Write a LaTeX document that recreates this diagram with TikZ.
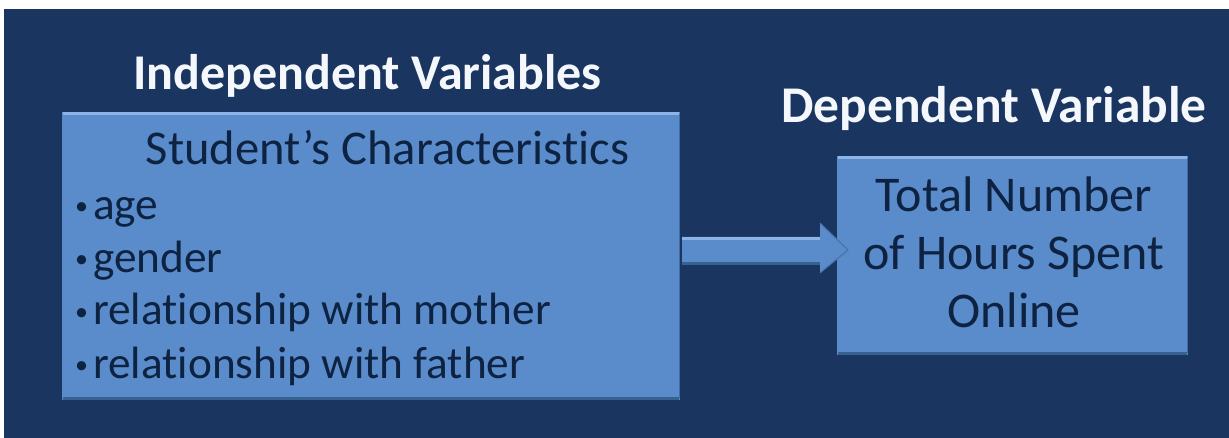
\documentclass[tikz,border=0pt]{standalone}
\usepackage{fontspec}
\setmainfont{Carlito}[RawFeature={-liga;-calt;-dlig;-clig}]
\usetikzlibrary{calc}
\definecolor{bgblue}{HTML}{1A3660}
\definecolor{boxblue}{HTML}{5A8BCB}
\definecolor{boxlight}{HTML}{8DB4E6}
\definecolor{boxdark}{HTML}{36628F}
\definecolor{inkblue}{HTML}{0E2342}
\definecolor{titlewhite}{HTML}{F4F7FB}
\newcommand{\smallbul}{\raisebox{5pt}{\fontsize{26}{26}\selectfont •}\hspace{5pt}}
\tikzset{
  panel/.style={draw=none, fill=boxblue, inner sep=0pt},
  titletext/.style={text=titlewhite, font=\bfseries\fontsize{50}{60}\selectfont, inner sep=0pt},
  headtext/.style={text=inkblue, font=\fontsize{48.5}{56}\selectfont, inner sep=0pt},
  itemtext/.style={text=inkblue, font=\fontsize{45.3}{53}\selectfont, inner sep=0pt, anchor=base west},
  bevellight/.style={boxlight, line width=3pt},
  beveldark/.style={boxdark, line width=3pt},
}
\begin{document}
\begin{tikzpicture}[x=1pt,y=-1pt]
\useasboundingbox (0,0) rectangle (1229,438);
\fill[white] (0,0) rectangle (1229,438);
\fill[bgblue] (4,9) rectangle (1229,438);

% boxes
\node[panel, minimum width=618pt, minimum height=288pt] (left) at (371,256) {};
\node[panel, minimum width=351pt, minimum height=199pt] (right) at (1012.5,255.5) {};
\foreach \b in {left,right}{
  \draw[bevellight] ($(\b.north west)+(1.5,1.5)$) -- ($(\b.north east)+(-1.5,1.5)$);
  \draw[beveldark] ($(\b.south west)+(1.5,-1.5)$) -- ($(\b.south east)+(-1.5,-1.5)$);
  \draw[boxdark!70!boxblue, line width=1.5pt] ($(\b.north east)+(-0.75,2)$) -- ($(\b.south east)+(-0.75,-2)$);
}

% block arrow
\coordinate (a0) at ($(left.east)+(2,-19)$);
\coordinate (tip) at (848,250);
\fill[boxblue] (a0) -- (820,237) -- (820,223) -- (tip) -- (820,273) -- (820,265) -- (682,265) -- cycle;
\draw[boxlight, line width=3pt] (682,238.5) -- (820,238.5);
\draw[boxdark, line width=3pt] (682,263.5) -- (820,263.5);
\draw[boxdark!60!boxblue, line width=1pt] (820,223) -- (tip) -- (820,273);

% titles
\node[titletext, anchor=base west] (indep) at (133,90) {Independent Variables};
\node[titletext, anchor=base east, font=\bfseries\fontsize{51.5}{60}\selectfont] (dep) at (1207,123) {Dependent Variable};

% left box text
\node[headtext, anchor=base] (sc) at (387.5,165) {Student’s Characteristics};
\node[itemtext] (i1) at (75,220) {\smallbul age};
\node[itemtext] (i2) at (75,273) {\smallbul gender};
\node[itemtext] (i3) at (75,325) {\smallbul relationship with mother};
\node[itemtext] (i4) at (75,378) {\smallbul relationship with father};

% right box text
\node[headtext, anchor=base, font=\fontsize{50}{56}\selectfont] (r1) at (1014,212) {Total Number};
\node[headtext, anchor=base, font=\fontsize{50}{56}\selectfont] (r2) at (1014,270) {of Hours Spent};
\node[headtext, anchor=base, font=\fontsize{50}{56}\selectfont] (r3) at (1014,328) {Online};
\end{tikzpicture}
\end{document}
